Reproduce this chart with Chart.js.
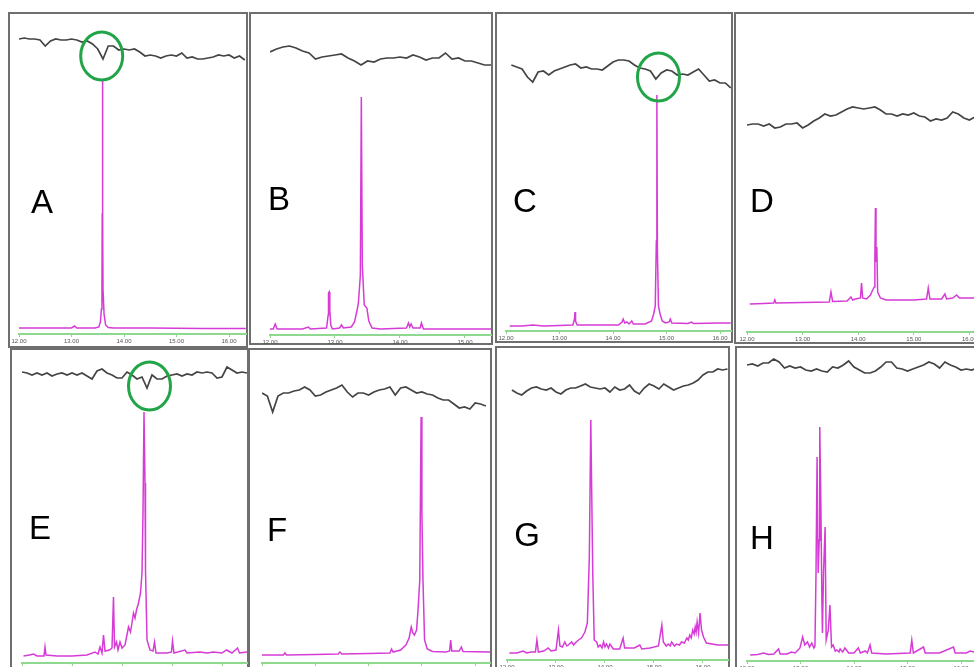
<!DOCTYPE html>
<html><head><meta charset="utf-8">
<script src="https://cdn.jsdelivr.net/npm/chart.js@4"></script>
<style>
html,body{margin:0;padding:0;background:#fff;}
body{width:974px;height:667px;overflow:hidden;position:relative;font-family:"Liberation Sans",Arial,sans-serif;}
.frame{position:absolute;box-sizing:border-box;border:2px solid #6f6f6f;}
canvas{position:absolute;}
.lbl{position:absolute;font-size:33px;line-height:1;color:#000;transform:translate(-50%,-50%);}
</style></head><body>
<script>
// ---- axis ticks (retention time, min) ----
const tickMinutes = [12, 13, 14, 15, 16];
const tickLabels = ['12.00', '13.00', '14.00', '15.00', '16.00'];
const panelLetters = ['A', 'B', 'C', 'D', 'E', 'F', 'G', 'H'];

// ---- upper (black) detector trace, sampled every 0.1 min from its start time ----
const noiseStart = [12.0, 12.0, 12.1, 12.0, 12.0, 12.0, 12.1, 12.0];
const noiseA = [295,296,295,295,294,288,293,295,294,294,295,294,292,293,290,285,275,288,288,284,285,284,285,282,278,279,278,276,278,279,278,281,276,277,275,275,276,277,279,278,279,276,278,274];
const noiseB = [283,286,288,289,287,284,282,276,278,279,280,281,277,274,270,274,273,276,277,277,278,277,280,278,275,277,277,282,276,277,274,274,272,270,270];
const noiseC = [266,264,262,254,249,259,260,256,260,262,264,266,267,263,264,262,262,261,265,269,271,271,270,266,263,262,260,252,258,261,260,256,257,256,259,262,256,250,251,248,248,243];
const noiseD = [207,208,208,206,208,204,205,208,208,209,204,207,211,214,218,216,217,220,223,225,224,223,224,225,222,218,218,216,218,217,219,216,215,211,213,212,214,220,218,214,212,215];
const noiseE = [291,290,288,290,288,290,287,289,290,288,290,288,290,287,284,292,294,290,288,285,285,291,288,284,286,275,288,284,284,287,288,289,287,289,288,291,290,291,290,285,286,296,293,290,291,290];
const noiseF = [270,267,251,267,270,270,272,273,276,273,267,268,271,273,275,278,271,266,270,270,268,271,273,274,276,268,275,276,273,270,271,269,268,265,263,263,259,255,256,254,260,259,257];
const noiseG = [270,267,265,269,272,273,271,270,272,268,266,270,272,272,274,276,273,272,271,272,268,273,270,271,275,269,266,272,276,274,271,276,273,270,272,274,275,277,280,285,288,288,291,290,291];
const noiseH = [296,297,295,298,298,302,299,293,295,293,294,291,290,292,290,289,294,293,296,300,294,291,288,288,290,294,299,299,293,292,290,292,294,296,299,297,293,299,296,294,291,292,291,293];

// ---- lower (magenta) chromatogram: [time min, abundance] ----
const peaksA = [[12.0,6],[12.5,6],[13.0,6],[13.06,8],[13.1,6],[13.45,6],[13.52,7],[13.55,12],[13.57,25],[13.58,45],[13.585,120],[13.59,254],[13.595,120],[13.6,45],[13.62,20],[13.65,9],[13.7,6.5],[13.8,6],[14.5,6],[15.5,5.5],[16.32,5.5]];
const peaksB = [[12.0,6],[12.05,6],[12.08,11],[12.11,6],[12.5,6],[12.59,8],[12.62,6],[12.87,7],[12.895,20],[12.9,42],[12.91,43],[12.92,25],[12.935,10],[12.96,6],[13.07,7],[13.1,10],[13.13,7],[13.25,8],[13.3,13],[13.34,25],[13.36,32],[13.39,60],[13.405,238],[13.42,70],[13.45,30],[13.49,27],[13.52,14],[13.57,7],[13.7,6],[14.1,7],[14.13,12],[14.15,8],[14.17,11],[14.2,7],[14.31,7],[14.33,12],[14.36,6],[15.0,6],[15.4,6]];
const peaksC = [[12.07,5],[12.3,5],[12.5,6],[12.7,5],[13.0,5.5],[13.25,6],[13.28,12],[13.29,19],[13.3,10],[13.33,6],[13.7,6],[14.1,6],[14.17,9],[14.19,12],[14.22,8],[14.26,9],[14.3,7],[14.35,10],[14.38,7],[14.6,7],[14.72,10],[14.76,17],[14.79,25],[14.81,90],[14.82,236],[14.83,80],[14.85,25],[14.88,17],[14.92,10],[14.98,8],[15.05,9],[15.07,12],[15.1,8],[15.4,7.5],[15.47,9],[15.5,7.5],[16.0,8],[16.2,8]];
const peaksD = [[12.05,28],[12.3,28.5],[12.48,29],[12.5,32],[12.52,29],[13.0,29.5],[13.48,30],[13.51,40],[13.54,30.5],[13.8,31],[13.87,35],[13.9,32],[13.95,33],[14.04,34],[14.06,49],[14.08,34],[14.15,33],[14.22,37],[14.26,42],[14.29,45],[14.3,75],[14.31,124],[14.32,70],[14.335,85],[14.35,40],[14.4,34],[14.5,32],[15.0,32],[15.23,33],[15.26,44],[15.29,33],[15.5,33],[15.56,38],[15.59,33],[15.7,34],[15.77,37],[15.82,34],[16.15,34]];
const peaksE = [[12.03,7],[12.15,8],[12.23,9],[12.3,7],[12.44,7],[12.46,16],[12.48,8],[12.7,7],[13.0,7],[13.3,8],[13.46,11],[13.52,9],[13.56,16],[13.6,10],[13.63,28],[13.66,12],[13.75,13],[13.8,15],[13.83,66],[13.85,16],[13.89,21],[13.92,13],[13.96,21],[14.0,15],[14.06,18],[14.13,36],[14.17,31],[14.23,50],[14.26,45],[14.29,53],[14.33,60],[14.37,70],[14.4,90],[14.42,150],[14.44,251],[14.46,180],[14.47,93],[14.5,23],[14.56,13],[14.62,12],[14.65,21],[14.68,10],[14.9,10],[14.99,11],[15.01,22],[15.04,10],[15.26,13],[15.3,10],[15.56,11],[15.7,10],[15.83,11],[16.0,10],[16.09,13],[16.2,10],[16.31,15],[16.35,10],[16.5,11]];
const peaksF = [[12.0,8],[12.4,8],[12.43,10],[12.46,8],[13.0,8.5],[13.43,9],[13.46,11],[13.5,9],[14.0,9.5],[14.4,10],[14.43,14],[14.46,11],[14.6,13],[14.7,18],[14.76,25],[14.8,36],[14.83,30],[14.86,28],[14.9,33],[14.93,55],[14.96,83],[14.985,246],[15.0,150],[15.02,83],[15.05,23],[15.1,14],[15.2,11.5],[15.45,11],[15.52,12],[15.54,23],[15.56,12],[15.7,12],[15.74,16],[15.77,11.5],[16.28,11]];
const peaksG = [[12.05,7],[12.2,7],[12.33,9],[12.4,7],[12.5,8],[12.58,8],[12.61,20],[12.64,8],[12.75,9],[12.84,12],[12.9,9],[13.0,10],[13.05,30],[13.08,14],[13.13,13],[13.18,18],[13.22,14],[13.25,15],[13.32,18],[13.36,15],[13.39,17],[13.46,20],[13.52,22],[13.59,28],[13.64,37],[13.68,103],[13.71,240],[13.75,87],[13.78,20],[13.83,18],[13.86,13],[13.9,15],[13.94,12],[13.97,18],[14.0,13],[14.03,16],[14.07,12],[14.1,16],[14.17,11],[14.3,11],[14.37,22],[14.4,12],[14.6,12],[14.71,15],[14.75,11],[14.92,12],[15.09,14],[15.16,35],[15.19,18],[15.25,14],[15.29,16],[15.33,14],[15.36,18],[15.42,14],[15.46,16],[15.52,15],[15.56,18],[15.62,17],[15.67,22],[15.7,20],[15.73,25],[15.76,22],[15.79,30],[15.82,26],[15.84,33],[15.86,28],[15.88,38],[15.91,27],[15.94,47],[15.97,30],[16.01,23],[16.07,17],[16.3,15],[16.53,15]];
const peaksH = [[12.06,6],[12.2,6.5],[12.31,8],[12.4,6.5],[12.5,7],[12.59,12],[12.62,7],[12.75,7],[12.83,9],[12.9,8],[12.99,13],[13.04,24],[13.08,16],[13.13,19],[13.17,14],[13.21,18],[13.25,13],[13.27,15],[13.29,88],[13.31,204],[13.33,88],[13.35,121],[13.36,234],[13.38,160],[13.4,60],[13.41,28],[13.43,88],[13.46,134],[13.48,21],[13.52,31],[13.55,56],[13.58,14],[13.61,16],[13.65,10],[13.68,11],[13.72,9],[13.74,12],[13.79,9],[13.83,13],[13.9,8],[14.0,8],[14.08,13],[14.12,8],[14.21,10],[14.25,8],[14.3,16],[14.33,8],[14.6,7],[15.05,8],[15.08,21],[15.11,8],[15.3,14],[15.33,8],[15.6,8],[15.86,14],[15.89,8],[16.1,8],[16.17,10],[16.32,8]];

// ---- highlighted dips (time, abundance) ----
const ringA = [[13.575, 278]];
const ringC = [[14.85, 254]];
const ringE = [[14.55, 277]];

const noise = [noiseA, noiseB, noiseC, noiseD, noiseE, noiseF, noiseG, noiseH];
const peaks = [peaksA, peaksB, peaksC, peaksD, peaksE, peaksF, peaksG, peaksH];
const rings = [ringA, [], ringC, [], ringE, [], [], []];

// ---- panel layout (pixels) ----
const layoutBox = {
  A:{l:8,  t:12, r:248, b:348, x0:19,  ppm:52.5, g:334, lx:42,  ly:201},
  B:{l:249,t:12, r:493, b:345, x0:270, ppm:65,   g:335, lx:279, ly:198},
  C:{l:495,t:12, r:733, b:343, x0:506, ppm:53.5, g:331, lx:525, ly:200},
  D:{l:734,t:12, r:980, b:344, x0:747, ppm:55.6, g:332, lx:762, ly:200},
  E:{l:10, t:348,r:249, b:680, x0:22,  ppm:50,   g:663, lx:40,  ly:527},
  F:{l:248,t:348,r:492, b:680, x0:262, ppm:53.3, g:663, lx:277, ly:529},
  G:{l:495,t:346,r:730, b:680, x0:507, ppm:49,   g:660, lx:527, ly:534},
  H:{l:735,t:346,r:980, b:680, x0:747, ppm:53.5, g:661, lx:762, ly:537}
};

Chart.register({
  id: 'rings',
  afterDatasetsDraw(chart, args, opts) {
    const {ctx, scales: {x, y}} = chart;
    (opts.items || []).forEach(c => {
      ctx.save();
      ctx.strokeStyle = '#22a548';
      ctx.lineWidth = 3;
      ctx.beginPath();
      ctx.ellipse(x.getPixelForValue(c[0]), y.getPixelForValue(c[1]), 21, 24, 0, 0, Math.PI * 2);
      ctx.stroke();
      ctx.restore();
    });
  }
});

panelLetters.forEach((id, k) => {
  const p = layoutBox[id];
  const w = p.r - p.l, h = p.b - p.t;
  const frame = document.createElement('div');
  frame.className = 'frame';
  Object.assign(frame.style, {left: p.l + 'px', top: p.t + 'px', width: w + 'px', height: h + 'px'});
  const cv = document.createElement('canvas');
  cv.width = w; cv.height = h;
  Object.assign(cv.style, {left: p.l + 'px', top: p.t + 'px'});
  const lbl = document.createElement('div');
  lbl.className = 'lbl';
  lbl.textContent = id;
  Object.assign(lbl.style, {left: p.lx + 'px', top: p.ly + 'px'});
  document.body.append(frame, cv, lbl);

  const xmax = 12 + (p.r - 2 - p.x0) / p.ppm;
  const noisePts = noise[k].map((v, i) => ({x: noiseStart[k] + i * 0.1, y: v}));
  const peakPts = peaks[k].map(([t, v]) => ({x: t, y: v}));

  new Chart(cv, {
    type: 'line',
    data: {datasets: [
      {data: noisePts, borderColor: '#444444', borderWidth: 1.7, pointRadius: 0, tension: 0},
      {data: peakPts, borderColor: '#d63bd6', borderWidth: 1.5, pointRadius: 0, tension: 0}
    ]},
    options: {
      responsive: false, animation: false, devicePixelRatio: 1,
      layout: {padding: {left: p.x0 - p.l, right: 2, top: 2, bottom: 0}},
      plugins: {legend: {display: false}, tooltip: {enabled: false}, rings: {items: rings[k]}},
      scales: {
        x: {
          type: 'linear', min: 12, max: xmax,
          afterBuildTicks: s => { s.ticks = tickMinutes.filter(v => v <= xmax).map(v => ({value: v})); },
          afterFit: s => { s.height = p.b - p.g; },
          ticks: {callback: v => tickLabels[tickMinutes.indexOf(v)], font: {size: 6, family: 'Liberation Sans'}, color: '#555', maxRotation: 0, autoSkip: false, padding: 1},
          grid: {drawOnChartArea: false, drawTicks: true, tickLength: 3, color: '#8fd88f', lineWidth: 1},
          border: {display: true, color: '#8fd88f', width: 2}
        },
        y: {display: false, min: 0, max: p.g - p.t - 2}
      }
    }
  });
});
</script>
</body></html>
